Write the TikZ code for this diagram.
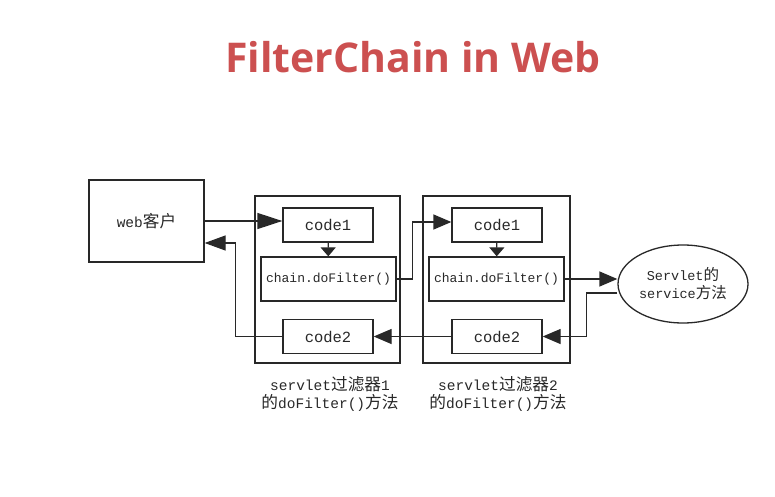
\documentclass[tikz,border=0pt]{standalone}
\usepackage{fontspec}
\setmainfont{Liberation Mono}
\newfontfamily\cjk[Scale=1.15]{Noto Sans CJK SC}
\newfontfamily\titlefont{Open Sans}
\usetikzlibrary{shapes.geometric,arrows.meta,positioning,calc}
\definecolor{titleRed}{RGB}{204,80,80}
\definecolor{lineGray}{RGB}{40,40,40}

\begin{document}
\begin{tikzpicture}[
  x=1pt, y=-1pt,
  every node/.style={inner sep=0pt, text=lineGray},
  fbox/.style={draw=lineGray, line width=1.3pt, minimum width=147pt,
               minimum height=167pt},
  codebox/.style={draw=lineGray, line width=1.3pt, minimum width=90pt,
                  minimum height=34pt, font=\fontsize{15.5}{17}\selectfont},
  chainbox/.style={draw=lineGray, line width=1.3pt, minimum width=135pt,
                   minimum height=44pt, font=\fontsize{13}{15}\selectfont},
  caption/.style={align=center, font=\fontsize{14.5}{18}\selectfont},
  arr/.style={draw=lineGray, line width=1.3pt,
              -{Triangle[length=18pt, width=15pt]}},
  sarr/.style={draw=lineGray, line width=1.3pt,
               -{Triangle[length=9pt, width=15pt]}},
]
\useasboundingbox (0,0) rectangle (775,497);

\node[font=\titlefont\bfseries\fontsize{41}{45}\selectfont, text=titleRed]
  (title) at (413,57) {FilterChain in Web};

% client
\node[draw=lineGray, line width=1.3pt, minimum width=115pt, minimum height=82pt,
      font=\fontsize{14.5}{16}\selectfont] (web) at (146.5,221) {web{\cjk 客户}};

% filter 1
\node[fbox, minimum width=145pt] (filtera) at (327.5,279.5) {};
\node[codebox] (code1a) at (328,225) {code1};
\node[chainbox] (chaina) at (328.5,279) {chain.doFilter()};
\node[codebox] (code2a) at (328,336.5) {code2};
\node[caption] (capa) at (330,394)
  {servlet{\cjk 过滤器}1\\{\cjk 的}doFilter(){\cjk 方法}};

% filter 2
\node[fbox] (filterb) at (496.5,279.5) {};
\node[codebox] (code1b) at (497,225) {code1};
\node[chainbox] (chainb) at (496.5,279) {chain.doFilter()};
\node[codebox] (code2b) at (497,336.5) {code2};
\node[caption] (capb) at (498,394)
  {servlet{\cjk 过滤器}2\\{\cjk 的}doFilter(){\cjk 方法}};

% servlet
\node[draw=lineGray, line width=1.3pt, ellipse, minimum width=130pt,
      minimum height=78pt, align=center, font=\fontsize{13.5}{18}\selectfont]
  (serv) at (683,284) {Servlet{\cjk 的}\\service{\cjk 方法}};

% request path
\draw[arr, -{Triangle[length=25pt, width=16pt]}] (web.east) -- (web.east -| code1a.west);
\draw[sarr] (code1a) -- (chaina);
\draw[arr] (chaina.east) -- ++(16,0) |- ([yshift=3pt]code1b.west);
\draw[sarr] (code1b) -- (chainb);
\draw[arr] (chainb.east) -- (chainb.east -| serv.west);

% response path
\draw[arr] ([yshift=-9pt]serv.west) -- ++(-31,0) |- (code2b.east);
\draw[arr] (code2b.west) -- (code2a.east);
\draw[arr, -{Triangle[length=21pt, width=15pt]}] (code2a.west)
  -| ([xshift=31pt,yshift=-22pt]web.east) -- ([yshift=-22pt]web.east);
\end{tikzpicture}
\end{document}
